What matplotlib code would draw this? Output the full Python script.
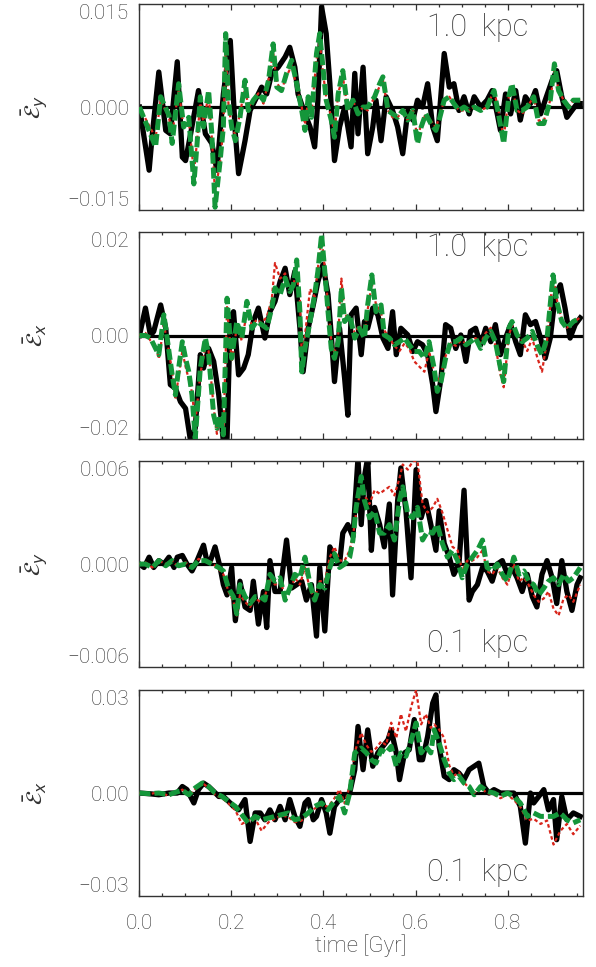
import matplotlib
matplotlib.use("Agg")
import matplotlib.pyplot as plt
from matplotlib.ticker import MultipleLocator

# ---------------- data ----------------
# Panel 1 : E_y, 1.0 kpc
p1_t_black = [0.001,0.022,0.029,0.043,0.058,0.068,0.083,0.094,0.101,0.112,0.129,0.144,0.158,0.169,0.183,0.198,0.209,0.216,0.230,0.241,0.252,0.266,0.277,0.288,0.302,0.317,0.327,0.338,0.345,0.360,0.371,0.381,0.388,0.396,0.406,0.414,0.424,0.435,0.446,0.460,0.468,0.475,0.486,0.496,0.507,0.514,0.525,0.536,0.550,0.561,0.572,0.583,0.594,0.604,0.615,0.626,0.637,0.647,0.662,0.673,0.683,0.694,0.705,0.716,0.727,0.741,0.755,0.766,0.777,0.784,0.795,0.806,0.817,0.827,0.838,0.849,0.860,0.871,0.881,0.896,0.906,0.917,0.928,0.939,0.950,0.957]
p1_black = [0,-0.0092,-0.0039,0.0051,-0.0034,-0.0039,0.0066,-0.0073,-0.0078,-0.0039,0.0024,-0.0039,-0.0053,-0.0092,0.0019,0.0097,-0.0039,-0.0097,-0.0049,-0.0005,0.0010,0.0029,0.0019,0.0049,0.0058,0.0073,0.0087,0.0058,0.0019,-0.0010,-0.0029,-0.0058,0.0010,0.0146,0.0107,0.0034,-0.0078,-0.0029,0,-0.0058,0.0049,-0.0039,0.0058,-0.0068,-0.0029,0.0010,-0.0049,0.0015,-0.0005,-0.0029,-0.0068,-0.0005,-0.0019,0.0010,0,0.0034,-0.0029,-0.0049,0.0078,0.0029,0.0034,-0.0005,0.0015,-0.0010,0.0015,0,0.0010,0.0024,-0.0010,-0.0034,0.0019,-0.0010,0.0024,-0.0019,0.0015,0.0005,0.0024,-0.0010,0.0010,0.0039,0.0053,0.0015,-0.0015,-0.0005,0.0005,0.0005]
p1_t_col = [0.001,0.036,0.047,0.065,0.072,0.086,0.097,0.108,0.119,0.126,0.133,0.140,0.151,0.158,0.165,0.176,0.183,0.188,0.194,0.201,0.209,0.219,0.230,0.237,0.248,0.259,0.270,0.281,0.291,0.299,0.309,0.320,0.331,0.342,0.353,0.360,0.367,0.374,0.385,0.392,0.399,0.406,0.417,0.424,0.432,0.442,0.453,0.464,0.475,0.486,0.496,0.511,0.522,0.529,0.540,0.550,0.561,0.572,0.583,0.594,0.604,0.612,0.622,0.633,0.644,0.651,0.662,0.673,0.683,0.694,0.705,0.716,0.727,0.741,0.755,0.770,0.781,0.791,0.802,0.809,0.820,0.831,0.842,0.856,0.867,0.878,0.892,0.901,0.910,0.921,0.932,0.942,0.957]
p1_green = [0,-0.0058,0.0015,-0.0012,-0.0053,0.0034,-0.0029,-0.0015,-0.0112,-0.0053,0.0015,-0.0029,0.0024,-0.0039,-0.0146,-0.0078,-0.0029,0.0107,0.0010,-0.0029,-0.0049,-0.0015,0.0039,-0.0005,0.0010,0.0019,0.0010,0.0039,0.0092,0.0029,0.0024,0.0049,0.0068,0.0034,-0.0005,-0.0034,0.0015,-0.0015,0.0078,0.0107,0.0058,0.0010,-0.0019,-0.0044,0.0019,0.0053,-0.0005,0.0010,-0.0010,0,0,0.0015,0.0034,0.0044,-0.0005,-0.0010,-0.0015,-0.0005,-0.0019,-0.0005,-0.0053,-0.0029,-0.0010,-0.0024,-0.0034,-0.0019,0.0010,0.0015,0.0005,-0.0005,0,-0.0005,0,-0.0005,0,0.0024,-0.0015,-0.0053,0.0015,0.0034,-0.0005,-0.0005,0,0.0015,-0.0024,-0.0024,0.0010,0.0063,0.0024,0.0010,0,0.0010,0.0010]
p1_red = [0,-0.0045,0.0010,-0.0015,-0.0040,0.0025,-0.0030,-0.0020,-0.0095,-0.0050,0.0010,-0.0025,0.0020,-0.0045,-0.0125,-0.0080,-0.0030,0.0085,0.0005,-0.0030,-0.0040,-0.0010,0.0030,0.0000,0.0010,0.0020,0.0005,0.0040,0.0080,0.0035,0.0025,0.0045,0.0060,0.0030,0.0000,-0.0025,0.0010,-0.0010,0.0070,0.0095,0.0050,0.0015,-0.0015,-0.0040,0.0020,0.0045,-0.0005,0.0010,-0.0010,0.0000,-0.0005,0.0015,0.0030,0.0040,-0.0005,-0.0015,-0.0015,-0.0005,-0.0020,-0.0005,-0.0045,-0.0025,-0.0010,-0.0020,-0.0030,-0.0015,0.0010,0.0015,0.0005,-0.0005,-0.0005,-0.0005,0.0000,-0.0005,0.0000,0.0025,-0.0010,-0.0045,0.0015,0.0030,-0.0005,-0.0010,0.0000,0.0015,-0.0020,-0.0020,0.0010,0.0055,0.0025,0.0010,0.0000,0.0010,0.0010]

# Panel 2 : E_x, 1.0 kpc
p2_t_black = [0.001,0.014,0.025,0.032,0.047,0.058,0.068,0.079,0.090,0.101,0.112,0.122,0.133,0.140,0.151,0.162,0.173,0.183,0.191,0.198,0.205,0.216,0.227,0.237,0.248,0.259,0.273,0.284,0.295,0.306,0.317,0.327,0.338,0.349,0.356,0.367,0.378,0.388,0.399,0.410,0.417,0.424,0.435,0.446,0.453,0.460,0.471,0.482,0.489,0.496,0.507,0.518,0.529,0.540,0.550,0.558,0.568,0.583,0.594,0.604,0.615,0.626,0.637,0.644,0.655,0.665,0.676,0.687,0.698,0.709,0.719,0.730,0.741,0.752,0.763,0.773,0.784,0.795,0.806,0.817,0.827,0.838,0.849,0.860,0.871,0.881,0.892,0.903,0.914,0.924,0.935,0.946,0.957]
p2_black = [0,0.0053,0,0.0008,0.0059,0.0014,-0.0095,-0.0102,-0.0128,-0.0141,-0.0205,-0.0179,-0.0037,-0.0063,-0.0025,-0.0050,-0.0115,-0.0205,-0.0199,0.0034,0.0046,-0.0076,-0.0063,-0.0037,0.0027,0.0053,-0.0005,0.0046,0.0066,0.0104,0.0130,0.0079,0.0124,0.0014,-0.0070,0.0014,0.0059,0.0104,0.0137,0.0079,0.0001,-0.0089,0.0014,-0.0083,-0.0154,0.0040,0.0053,-0.0037,0.0027,0.0014,0.0053,0.0040,-0.0005,-0.0025,0.0046,-0.0037,0.0014,0.0001,-0.0031,-0.0012,-0.0018,-0.0037,-0.0095,-0.0147,-0.0083,0.0021,0.0014,-0.0025,0.0001,-0.0050,0.0008,0.0014,-0.0018,0.0014,-0.0012,0.0021,-0.0037,-0.0005,0.0021,-0.0012,-0.0037,0.0040,0.0021,0.0027,-0.0005,-0.0044,-0.0005,0.0079,0.0098,0.0053,-0.0005,0.0021,0.0034]
p2_t_col = [0.001,0.014,0.025,0.036,0.043,0.054,0.061,0.072,0.079,0.086,0.094,0.101,0.108,0.115,0.122,0.133,0.144,0.151,0.162,0.169,0.176,0.183,0.191,0.201,0.212,0.223,0.234,0.245,0.255,0.266,0.277,0.288,0.295,0.306,0.317,0.327,0.335,0.342,0.349,0.353,0.360,0.371,0.381,0.388,0.396,0.403,0.410,0.417,0.424,0.432,0.439,0.446,0.457,0.468,0.478,0.489,0.496,0.505,0.514,0.525,0.532,0.543,0.554,0.565,0.576,0.586,0.597,0.608,0.619,0.629,0.640,0.647,0.655,0.665,0.676,0.687,0.698,0.709,0.719,0.730,0.741,0.752,0.763,0.773,0.784,0.791,0.802,0.809,0.820,0.831,0.842,0.853,0.863,0.874,0.885,0.898,0.906,0.917,0.928,0.942,0.957]
p2_green = [0,0,-0.0005,-0.0025,-0.0037,0.0040,-0.0005,-0.0076,-0.0115,-0.0063,-0.0012,-0.0044,-0.0070,-0.0115,-0.0199,-0.0063,-0.0005,-0.0037,-0.0154,-0.0179,-0.0154,-0.0192,0.0072,-0.0044,0.0027,-0.0005,0.0066,0.0014,0.0027,0.0021,0.0014,0.0053,0.0092,0.0079,0.0111,0.0085,0.0098,0.0146,0.0046,-0.0070,-0.0025,0.0027,0.0079,0.0124,0.0195,0.0124,0.0046,-0.0025,-0.0044,-0.0012,0.0092,0.0027,0.0040,-0.0005,0.0014,-0.0005,0.0059,0.0117,0.0046,0.0059,0.0001,-0.0005,-0.0018,-0.0012,-0.0005,-0.0018,-0.0031,-0.0031,-0.0044,-0.0012,-0.0063,-0.0108,-0.0089,-0.0044,-0.0012,-0.0012,-0.0005,-0.0018,-0.0012,-0.0005,-0.0025,-0.0005,0.0008,-0.0012,-0.0063,-0.0089,0.0014,0.0027,0.0001,-0.0012,-0.0005,0.0008,-0.0018,-0.0037,-0.0005,0.0117,0.0066,0.0027,0.0014,0.0027,0.0034]
p2_red = [0,0.0005,-0.0010,-0.0020,-0.0045,0.0020,-0.0010,-0.0070,-0.0120,-0.0080,-0.0030,-0.0060,-0.0085,-0.0110,-0.0170,-0.0075,-0.0020,-0.0030,-0.0140,-0.0190,-0.0160,-0.0185,0.0055,-0.0050,0.0015,-0.0010,0.0045,0.0020,0.0030,0.0025,0.0035,0.0070,0.0140,0.0110,0.0120,0.0090,0.0100,0.0120,0.0070,-0.0040,0.0000,0.0090,0.0075,0.0130,0.0190,0.0130,0.0060,-0.0010,-0.0035,0.0000,0.0110,0.0040,0.0035,0.0005,0.0020,0.0000,0.0050,0.0100,0.0060,0.0045,0.0010,-0.0005,-0.0020,-0.0030,-0.0015,-0.0025,-0.0050,-0.0060,-0.0070,-0.0030,-0.0070,-0.0090,-0.0075,-0.0040,-0.0015,-0.0020,-0.0010,-0.0015,-0.0010,-0.0005,-0.0015,0.0005,0.0015,-0.0020,-0.0075,-0.0100,0.0000,0.0020,0.0005,-0.0010,-0.0030,-0.0005,-0.0040,-0.0070,-0.0010,0.0120,0.0070,0.0030,0.0015,0.0025,0.0035]

# Panel 3 : E_y, 0.1 kpc
p3_t_black = [0.001,0.011,0.022,0.032,0.043,0.054,0.065,0.076,0.083,0.094,0.104,0.115,0.126,0.140,0.147,0.155,0.165,0.176,0.183,0.191,0.201,0.209,0.219,0.230,0.241,0.248,0.259,0.270,0.277,0.284,0.295,0.306,0.320,0.331,0.342,0.353,0.363,0.374,0.385,0.392,0.403,0.414,0.424,0.435,0.442,0.453,0.464,0.475,0.482,0.489,0.496,0.504,0.511,0.522,0.532,0.543,0.550,0.561,0.568,0.579,0.590,0.601,0.612,0.622,0.633,0.644,0.651,0.662,0.673,0.683,0.694,0.705,0.716,0.723,0.734,0.745,0.755,0.766,0.777,0.788,0.799,0.809,0.820,0.831,0.842,0.853,0.863,0.874,0.885,0.896,0.906,0.917,0.928,0.939,0.950,0.957]
p3_black = [0,-0.0002,0.0004,-0.0002,0.0002,0,0.0004,-0.0002,0.0004,0.0005,0,-0.0004,0.0002,0.0011,0.0002,0.0002,0.0010,-0.0002,-0.0012,-0.0018,-0.0002,-0.0033,-0.0010,-0.0025,-0.0027,-0.0010,-0.0035,-0.0016,-0.0037,0.0002,-0.0016,-0.0016,0.0014,-0.0014,-0.0012,-0.0010,-0.0021,-0.0012,-0.0042,-0.0002,-0.0039,0.0010,0.0004,0,0.0018,0.0023,0.0016,0.0062,0.0023,0.0051,0.0062,0.0008,0.0033,0.0023,0.0010,0.0035,-0.0018,0.0037,0.0056,0.0031,-0.0008,0.0055,0.0027,0.0037,0.0023,0.0008,0.0031,0.0012,0.0004,-0.0006,0,0.0043,-0.0021,-0.0016,-0.0012,-0.0002,-0.0004,-0.0010,0,0.0002,-0.0006,-0.0002,-0.0008,-0.0016,-0.0006,-0.0019,-0.0025,-0.0006,0.0002,-0.0008,-0.0023,0.0002,-0.0016,-0.0027,-0.0012,-0.0008]
p3_t_col = [0.001,0.014,0.029,0.043,0.058,0.072,0.086,0.101,0.115,0.129,0.144,0.158,0.173,0.183,0.194,0.205,0.212,0.219,0.230,0.241,0.252,0.263,0.273,0.284,0.295,0.306,0.317,0.327,0.338,0.349,0.360,0.371,0.381,0.392,0.403,0.414,0.424,0.435,0.446,0.457,0.464,0.471,0.482,0.489,0.500,0.511,0.522,0.532,0.543,0.554,0.565,0.572,0.583,0.594,0.604,0.615,0.626,0.637,0.647,0.658,0.669,0.680,0.691,0.701,0.712,0.723,0.734,0.745,0.755,0.766,0.777,0.788,0.799,0.813,0.824,0.835,0.845,0.856,0.867,0.878,0.888,0.899,0.910,0.921,0.932,0.942,0.957]
p3_green = [0,0,-0.0002,0.0002,-0.0001,0.0002,-0.0001,0,-0.0002,0.0002,0.0002,0,-0.0002,-0.0004,-0.0014,-0.0019,-0.0029,-0.0012,-0.0019,-0.0023,-0.0019,-0.0019,-0.0021,-0.0006,-0.0010,-0.0008,-0.0021,-0.0014,-0.0006,-0.0008,0.0004,-0.0012,-0.0021,-0.0012,-0.0014,-0.0002,0.0006,-0.0002,0,0.0004,0.0014,0.0033,0.0051,0.0037,0.0027,0.0031,0.0018,0.0018,0.0023,0.0014,0.0037,0.0045,0.0029,0.0027,0.0033,0.0014,0.0019,0.0018,0.0023,0.0012,0.0004,0.0008,0.0002,-0.0008,0,0.0004,0.0008,0.0014,-0.0002,-0.0004,0,-0.0006,-0.0010,0.0004,-0.0006,-0.0004,-0.0010,-0.0012,-0.0018,-0.0014,-0.0010,-0.0008,-0.0012,-0.0006,-0.0010,-0.0008,-0.0002]
p3_red = [0,0.0001,-0.0002,0.0002,0,0.0002,-0.0002,0.0001,-0.0002,0.0003,0.0002,0.0001,-0.0003,-0.0006,-0.0016,-0.0022,-0.0030,-0.0018,-0.0022,-0.0025,-0.0020,-0.0022,-0.0019,-0.0008,-0.0012,-0.0010,-0.0018,-0.0016,-0.0008,-0.0012,-0.0002,-0.0015,-0.0020,-0.0010,-0.0010,0.0004,0.0010,0.0002,0.0002,0.0008,0.0016,0.0030,0.0045,0.0040,0.0035,0.0043,0.0041,0.0043,0.0045,0.0040,0.0050,0.0058,0.0055,0.0060,0.0060,0.0035,0.0030,0.0033,0.0038,0.0030,0.0020,0.0010,0.0008,-0.0004,0.0002,0.0002,0.0004,0.0008,-0.0004,-0.0006,-0.0002,-0.0008,-0.0012,0.0000,-0.0010,-0.0008,-0.0012,-0.0018,-0.0022,-0.0020,-0.0016,-0.0026,-0.0030,-0.0020,-0.0018,-0.0022,-0.0012]

# Panel 4 : E_x, 0.1 kpc
p4_t_black = [0.001,0.022,0.043,0.065,0.083,0.094,0.104,0.119,0.129,0.140,0.151,0.162,0.173,0.183,0.194,0.205,0.216,0.230,0.241,0.252,0.263,0.273,0.284,0.295,0.306,0.317,0.327,0.338,0.349,0.360,0.367,0.378,0.385,0.396,0.406,0.414,0.424,0.435,0.446,0.457,0.468,0.475,0.486,0.496,0.507,0.518,0.529,0.540,0.547,0.558,0.565,0.576,0.586,0.597,0.608,0.615,0.626,0.637,0.644,0.651,0.662,0.673,0.683,0.694,0.705,0.716,0.727,0.737,0.748,0.759,0.770,0.784,0.799,0.813,0.827,0.838,0.849,0.856,0.867,0.878,0.888,0.899,0.906,0.917,0.928,0.942,0.957]
p4_black = [0,-0.0002,-0.0005,0,0,0.0019,0.0010,-0.0029,0.0010,0.0029,0.0019,0.0005,-0.0010,-0.0010,-0.0024,-0.0039,-0.0049,-0.0019,-0.0141,-0.0058,-0.0058,-0.0078,-0.0049,-0.0078,-0.0039,-0.0078,-0.0019,-0.0068,-0.0097,-0.0029,-0.0019,-0.0078,-0.0068,-0.0019,-0.0058,-0.0117,-0.0039,-0.0019,-0.0010,0,0.0068,0.0194,0.0068,0.0184,0.0078,0.0117,0.0136,0.0155,0.0184,0.0117,0.0039,0.0117,0.0126,0.0214,0.0097,0.0097,0.0165,0.0262,0.0286,0.0136,0.0049,0.0039,0.0068,0.0058,0.0039,0.0068,0.0078,0.0087,0.0019,0,0.0010,0,0,0,-0.0039,-0.0146,0,-0.0029,-0.0010,0.0010,-0.0049,-0.0019,-0.0136,-0.0010,-0.0078,-0.0058,-0.0068]
p4_t_col = [0.001,0.022,0.043,0.065,0.079,0.094,0.108,0.122,0.137,0.151,0.165,0.180,0.194,0.209,0.223,0.237,0.252,0.266,0.281,0.295,0.309,0.324,0.338,0.353,0.367,0.381,0.396,0.410,0.424,0.435,0.446,0.457,0.468,0.482,0.493,0.504,0.514,0.525,0.536,0.547,0.558,0.568,0.579,0.590,0.601,0.612,0.622,0.633,0.640,0.651,0.662,0.673,0.683,0.694,0.705,0.716,0.727,0.741,0.755,0.770,0.784,0.799,0.813,0.827,0.842,0.856,0.871,0.885,0.899,0.914,0.928,0.942,0.957]
p4_green = [0,-0.0002,0,-0.0005,0.0002,0.0008,-0.0005,0.0015,0.0029,0.0019,0,-0.0010,-0.0024,-0.0039,-0.0063,-0.0087,-0.0068,-0.0078,-0.0073,-0.0068,-0.0063,-0.0058,-0.0078,-0.0073,-0.0058,-0.0039,-0.0029,-0.0049,-0.0024,-0.0010,-0.0058,0,0.0117,0.0131,0.0117,0.0097,0.0087,0.0126,0.0117,0.0136,0.0078,0.0117,0.0107,0.0151,0.0204,0.0117,0.0136,0.0117,0.0184,0.0146,0.0097,0.0058,0.0039,0.0049,0.0029,0.0019,-0.0005,0.0019,0.0005,0,-0.0010,0,-0.0010,-0.0029,-0.0068,-0.0058,-0.0068,-0.0068,-0.0068,-0.0058,-0.0078,-0.0087,-0.0078]
p4_red = [0,-0.0003,0.0002,-0.0008,0.0000,0.0010,-0.0008,0.0012,0.0030,0.0015,-0.0005,-0.0015,-0.0030,-0.0050,-0.0090,-0.0080,-0.0075,-0.0110,-0.0085,-0.0075,-0.0065,-0.0070,-0.0085,-0.0080,-0.0060,-0.0045,-0.0035,-0.0040,-0.0015,0.0010,-0.0030,0.0020,0.0120,0.0175,0.0140,0.0120,0.0130,0.0150,0.0140,0.0205,0.0160,0.0230,0.0180,0.0250,0.0300,0.0200,0.0230,0.0190,0.0200,0.0185,0.0160,0.0080,0.0050,0.0060,0.0030,0.0015,0.0000,0.0015,0.0000,-0.0005,-0.0015,-0.0005,-0.0020,-0.0040,-0.0080,-0.0075,-0.0090,-0.0080,-0.0150,-0.0110,-0.0090,-0.0120,-0.0095]

y_limits = [0.015, 0.02, 0.006, 0.03]
y_ticklabels = [["\u22120.015", "0.000", "0.015"],
                ["\u22120.02", "0.00", "0.02"],
                ["\u22120.006", "0.000", "0.006"],
                ["\u22120.03", "0.00", "0.03"]]
y_labels = [r"$\bar{\mathcal{E}}_y$", r"$\bar{\mathcal{E}}_x$",
            r"$\bar{\mathcal{E}}_y$", r"$\bar{\mathcal{E}}_x$"]
scale_labels = ["1.0  kpc", "1.0  kpc", "0.1  kpc", "0.1  kpc"]
scale_label_y = [0.886, 0.925, 0.112, 0.114]
x_label = "time [Gyr]"

panels = [
    (p1_t_black, p1_black, p1_t_col, p1_red, p1_green),
    (p2_t_black, p2_black, p2_t_col, p2_red, p2_green),
    (p3_t_black, p3_black, p3_t_col, p3_red, p3_green),
    (p4_t_black, p4_black, p4_t_col, p4_red, p4_green),
]

# ---------------- style ----------------
FONT = ["Roboto", "DejaVu Sans"]
WEIGHT = "light"
TXT = "#333333"
GREEN = "#14963a"
RED = "#d8241a"
TICK_FS = 15

fig = plt.figure(figsize=(5.96, 9.67), dpi=100)
rects = [(0.2332, 0.7828, 0.745, 0.2130),
         (0.2332, 0.5460, 0.745, 0.2141),
         (0.2332, 0.3102, 0.745, 0.2130),
         (0.2332, 0.0734, 0.745, 0.2130)]

for i, (rect, (tb, vb, tc, vr, vg)) in enumerate(zip(rects, panels)):
    ax = fig.add_axes(rect)
    ax.axhline(0, color="black", lw=2.3, zorder=1)
    ax.plot(tb, vb, color="black", lw=3.8, zorder=2)
    ax.plot(tc, vr, color=RED, lw=1.6, ls=(0, (1.6, 1.2)), zorder=3)
    ax.plot(tc, vg, color=GREEN, lw=3.6, ls=(0, (2.2, 0.8)), zorder=4)

    lim = y_limits[i]
    ax.set_xlim(0, 0.963)
    ax.set_ylim(-lim, lim)
    ax.set_yticks([-lim, 0, lim])
    labs = ax.set_yticklabels(y_ticklabels[i], family=FONT, fontweight=WEIGHT,
                              fontsize=TICK_FS, color=TXT)
    labs[0].set_verticalalignment("bottom")
    labs[2].set_verticalalignment("top")

    ax.xaxis.set_major_locator(MultipleLocator(0.2))
    ax.xaxis.set_minor_locator(MultipleLocator(0.05))
    ax.tick_params(axis="x", which="major", direction="in", top=True, bottom=True,
                   length=4.0, width=0.9, color="#333333", pad=13)
    ax.tick_params(axis="x", which="minor", direction="in", top=True, bottom=True,
                   length=2.2, width=0.9, color="#333333")
    ax.tick_params(axis="y", which="both", length=0, pad=7)
    for sp in ax.spines.values():
        sp.set_linewidth(1.0)
        sp.set_color("#333333")

    if i < 3:
        ax.set_xticklabels([])
    else:
        for lab in ax.get_xticklabels():
            lab.set_family(FONT)
            lab.set_fontweight(WEIGHT)
            lab.set_fontsize(TICK_FS)
            lab.set_color(TXT)
        ax.set_xlabel(x_label, family=FONT, fontweight=WEIGHT, fontsize=16,
                      color=TXT, labelpad=1)

    ax.text(-0.234, 0.5, y_labels[i], transform=ax.transAxes, rotation=90,
            ha="center", va="center", fontsize=16, color=TXT)
    ax.text(0.762, scale_label_y[i], scale_labels[i], transform=ax.transAxes,
            ha="center", va="center", family=FONT, fontweight=WEIGHT,
            fontsize=22, color=TXT)

fig.savefig("out.png", dpi=100)
